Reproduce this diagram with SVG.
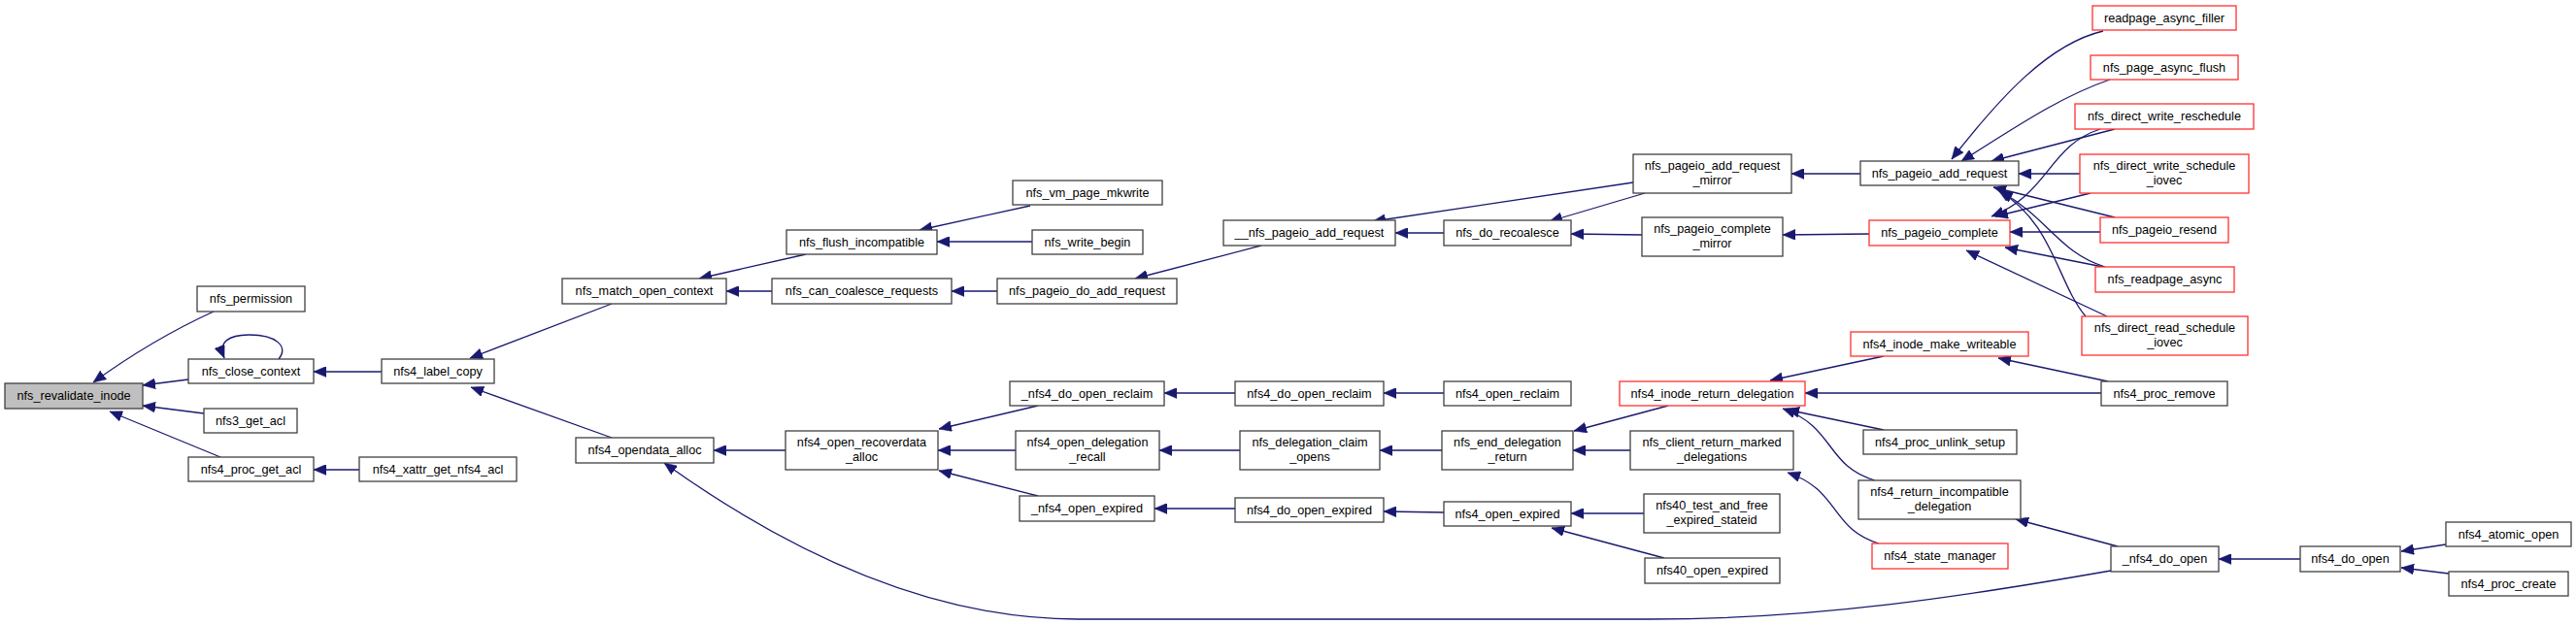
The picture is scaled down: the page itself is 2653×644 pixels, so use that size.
<svg xmlns="http://www.w3.org/2000/svg" width="2653" height="644" viewBox="0 0 2653 644">
<style>
.n rect{fill:#fff;stroke:#404040;stroke-width:1.3}
.r rect{fill:#fff;stroke:#ff3030;stroke-width:1.3}
.g rect{fill:#bfbfbf;stroke:#404040;stroke-width:1.3}
text{font-family:"Liberation Sans",Arial,sans-serif;font-size:12.7px;fill:#000;text-anchor:middle}
#edges path{fill:none;stroke:#191970;stroke-width:1.3;marker-end:url(#ah)}
</style>
<defs>
<marker id="ah" markerUnits="userSpaceOnUse" markerWidth="13" markerHeight="11" refX="13" refY="5.5" orient="auto">
<path d="M0,0 L13,5.5 L0,11 z" fill="#191970" stroke="#191970" stroke-width="0.5"/>
</marker>
</defs>
<rect width="2653" height="644" fill="#fff"/>
<g id="edges">
<path d="M220,321 C185,337 140,362 96,394"/>
<path d="M194,391 L147,397"/>
<path d="M210,426 L147,418"/>
<path d="M227,471 L113,424"/>
<path d="M287,370 C298,357 284,345 257,345 C236,345 224,352 231,369"/>
<path d="M393,383 L323,383"/>
<path d="M370,484 L323,484"/>
<path d="M630,313 L484,369"/>
<path d="M630,451 L485,399"/>
<path d="M830,262 L720,287"/>
<path d="M795,300 L748,300"/>
<path d="M809,464 L735,464"/>
<path d="M2174,588 C2020,615 1870,638 1700,638 L1110,638 C950,638 800,560 684,477"/>
<path d="M1061,212 L947,237"/>
<path d="M1063,249 L965,249"/>
<path d="M1027,300 L980,300"/>
<path d="M1299,253 L1169,287"/>
<path d="M1487,240 L1437,240"/>
<path d="M1682,188 L1414,228"/>
<path d="M1694,199 L1596,228"/>
<path d="M1691,242 L1618,241"/>
<path d="M1916,179 L1845,179"/>
<path d="M1925,241 L1836,242"/>
<path d="M2166,32 C2110,45 2060,100 2010,164"/>
<path d="M2173,82 C2120,100 2070,135 2020,166"/>
<path d="M2178,133 L2051,166"/>
<path d="M2142,179 L2079,179"/>
<path d="M2178,224 L2053,193"/>
<path d="M2168,275 C2120,260 2110,225 2060,197"/>
<path d="M2148,326 C2118,290 2115,230 2058,196"/>
<path d="M2163,133 C2110,150 2110,200 2051,223"/>
<path d="M2153,199 L2055,223"/>
<path d="M2163,239 L2070,239"/>
<path d="M2166,275 L2065,255"/>
<path d="M2170,326 L2025,258"/>
<path d="M1069,418 L967,442"/>
<path d="M1046,464 L966,464"/>
<path d="M1069,511 L967,485"/>
<path d="M1272,405 L1199,405"/>
<path d="M1277,464 L1194,464"/>
<path d="M1272,524 L1189,524"/>
<path d="M1487,405 L1425,405"/>
<path d="M1485,464 L1421,464"/>
<path d="M1487,528 L1425,527"/>
<path d="M1718,418 L1621,444"/>
<path d="M1679,464 L1620,464"/>
<path d="M1693,529 L1618,529"/>
<path d="M1714,575 L1598,544"/>
<path d="M1940,367 L1823,392"/>
<path d="M2164,405 L1859,405"/>
<path d="M1940,443 L1840,422"/>
<path d="M1931,495 C1880,480 1890,440 1836,421"/>
<path d="M1935,560 C1885,545 1895,505 1841,487"/>
<path d="M2171,393 L2058,369"/>
<path d="M2181,563 L2076,535"/>
<path d="M2369,576 L2285,576"/>
<path d="M2519,561 L2473,568"/>
<path d="M2522,591 L2473,585"/>
</g>
<g id="n1" class="g"><rect x="5" y="395" width="142" height="26"/><text x="76" y="412">nfs_revalidate_inode</text></g>
<g id="n2" class="n"><rect x="203" y="295" width="111" height="26"/><text x="258.5" y="312">nfs_permission</text></g>
<g id="n3" class="n"><rect x="194" y="370" width="129" height="25"/><text x="258.5" y="387">nfs_close_context</text></g>
<g id="n4" class="n"><rect x="210" y="421" width="96" height="25"/><text x="258" y="438">nfs3_get_acl</text></g>
<g id="n5" class="n"><rect x="194" y="471" width="129" height="25"/><text x="258.5" y="488">nfs4_proc_get_acl</text></g>
<g id="n6" class="n"><rect x="393" y="370" width="116" height="25"/><text x="451" y="387">nfs4_label_copy</text></g>
<g id="n7" class="n"><rect x="370" y="471" width="162" height="25"/><text x="451" y="488">nfs4_xattr_get_nfs4_acl</text></g>
<g id="n8" class="n"><rect x="579" y="287" width="169" height="26"/><text x="663.5" y="304">nfs_match_open_context</text></g>
<g id="n9" class="n"><rect x="593" y="451" width="142" height="26"/><text x="664" y="468">nfs4_opendata_alloc</text></g>
<g id="n10" class="n"><rect x="810" y="237" width="155" height="25"/><text x="887.5" y="254">nfs_flush_incompatible</text></g>
<g id="n11" class="n"><rect x="795" y="287" width="185" height="26"/><text x="887.5" y="304">nfs_can_coalesce_requests</text></g>
<g id="n12" class="n"><rect x="809" y="444" width="157" height="40"/><text x="887.5" y="460">nfs4_open_recoverdata</text><text x="887.5" y="475">_alloc</text></g>
<g id="n13" class="n"><rect x="1043" y="186" width="154" height="25"/><text x="1120" y="203">nfs_vm_page_mkwrite</text></g>
<g id="n14" class="n"><rect x="1063" y="237" width="114" height="25"/><text x="1120" y="254">nfs_write_begin</text></g>
<g id="n15" class="n"><rect x="1027" y="287" width="185" height="26"/><text x="1119.5" y="304">nfs_pageio_do_add_request</text></g>
<g id="n16" class="n"><rect x="1260" y="227" width="177" height="26"/><text x="1348.5" y="244">__nfs_pageio_add_request</text></g>
<g id="n17" class="n"><rect x="1487" y="227" width="131" height="26"/><text x="1552.5" y="244">nfs_do_recoalesce</text></g>
<g id="n18" class="n"><rect x="1682" y="159" width="163" height="40"/><text x="1763.5" y="175">nfs_pageio_add_request</text><text x="1763.5" y="190">_mirror</text></g>
<g id="n19" class="n"><rect x="1691" y="224" width="145" height="40"/><text x="1763.5" y="240">nfs_pageio_complete</text><text x="1763.5" y="255">_mirror</text></g>
<g id="n20" class="n"><rect x="1916" y="166" width="163" height="25"/><text x="1997.5" y="183">nfs_pageio_add_request</text></g>
<g id="n21" class="r"><rect x="1925" y="227" width="145" height="26"/><text x="1997.5" y="244">nfs_pageio_complete</text></g>
<g id="n22" class="r"><rect x="2155" y="6" width="148" height="25"/><text x="2229" y="23">readpage_async_filler</text></g>
<g id="n23" class="r"><rect x="2153" y="57" width="152" height="25"/><text x="2229" y="74">nfs_page_async_flush</text></g>
<g id="n24" class="r"><rect x="2137" y="107" width="184" height="26"/><text x="2229" y="124">nfs_direct_write_reschedule</text></g>
<g id="n25" class="r"><rect x="2142" y="159" width="174" height="40"/><text x="2229" y="175">nfs_direct_write_schedule</text><text x="2229" y="190">_iovec</text></g>
<g id="n26" class="r"><rect x="2163" y="224" width="132" height="26"/><text x="2229" y="241">nfs_pageio_resend</text></g>
<g id="n27" class="r"><rect x="2158" y="275" width="143" height="26"/><text x="2229.5" y="292">nfs_readpage_async</text></g>
<g id="n28" class="r"><rect x="2144" y="326" width="171" height="40"/><text x="2229.5" y="342">nfs_direct_read_schedule</text><text x="2229.5" y="357">_iovec</text></g>
<g id="n29" class="r"><rect x="1906" y="342" width="183" height="25"/><text x="1997.5" y="359">nfs4_inode_make_writeable</text></g>
<g id="n30" class="r"><rect x="1668" y="393" width="191" height="25"/><text x="1763.5" y="410">nfs4_inode_return_delegation</text></g>
<g id="n31" class="n"><rect x="2164" y="393" width="130" height="25"/><text x="2229" y="410">nfs4_proc_remove</text></g>
<g id="n32" class="n"><rect x="1919" y="443" width="158" height="25"/><text x="1998" y="460">nfs4_proc_unlink_setup</text></g>
<g id="n33" class="n"><rect x="1914" y="495" width="167" height="40"/><text x="1997.5" y="511">nfs4_return_incompatible</text><text x="1997.5" y="526">_delegation</text></g>
<g id="n34" class="r"><rect x="1928" y="560" width="140" height="26"/><text x="1998" y="577">nfs4_state_manager</text></g>
<g id="n35" class="n"><rect x="2174" y="563" width="111" height="26"/><text x="2229.5" y="580">_nfs4_do_open</text></g>
<g id="n36" class="n"><rect x="2369" y="563" width="103" height="26"/><text x="2420.5" y="580">nfs4_do_open</text></g>
<g id="n37" class="n"><rect x="2519" y="538" width="129" height="25"/><text x="2583.5" y="555">nfs4_atomic_open</text></g>
<g id="n38" class="n"><rect x="2522" y="589" width="123" height="25"/><text x="2583.5" y="606">nfs4_proc_create</text></g>
<g id="n39" class="n"><rect x="1679" y="444" width="168" height="40"/><text x="1763" y="460">nfs_client_return_marked</text><text x="1763" y="475">_delegations</text></g>
<g id="n40" class="n"><rect x="1693" y="509" width="140" height="40"/><text x="1763" y="525">nfs40_test_and_free</text><text x="1763" y="540">_expired_stateid</text></g>
<g id="n41" class="n"><rect x="1694" y="575" width="139" height="26"/><text x="1763.5" y="592">nfs40_open_expired</text></g>
<g id="n42" class="n"><rect x="1485" y="444" width="135" height="40"/><text x="1552.5" y="460">nfs_end_delegation</text><text x="1552.5" y="475">_return</text></g>
<g id="n43" class="n"><rect x="1487" y="517" width="131" height="25"/><text x="1552.5" y="534">nfs4_open_expired</text></g>
<g id="n44" class="n"><rect x="1487" y="393" width="131" height="25"/><text x="1552.5" y="410">nfs4_open_reclaim</text></g>
<g id="n45" class="n"><rect x="1272" y="393" width="153" height="25"/><text x="1348.5" y="410">nfs4_do_open_reclaim</text></g>
<g id="n46" class="n"><rect x="1277" y="444" width="144" height="40"/><text x="1349" y="460">nfs_delegation_claim</text><text x="1349" y="475">_opens</text></g>
<g id="n47" class="n"><rect x="1272" y="513" width="153" height="25"/><text x="1348.5" y="530">nfs4_do_open_expired</text></g>
<g id="n48" class="n"><rect x="1040" y="393" width="159" height="25"/><text x="1119.5" y="410">_nfs4_do_open_reclaim</text></g>
<g id="n49" class="n"><rect x="1046" y="444" width="148" height="40"/><text x="1120" y="460">nfs4_open_delegation</text><text x="1120" y="475">_recall</text></g>
<g id="n50" class="n"><rect x="1050" y="511" width="139" height="26"/><text x="1119.5" y="528">_nfs4_open_expired</text></g>
</svg>
